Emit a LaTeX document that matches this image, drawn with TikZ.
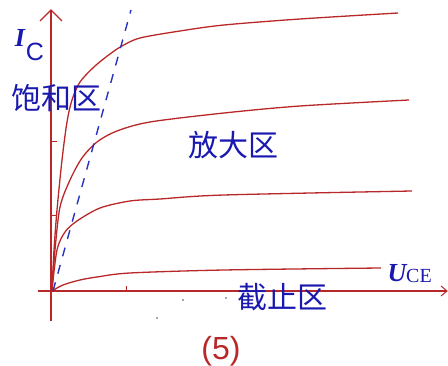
\documentclass[tikz,border=0pt]{standalone}
\usepackage{fontspec}
\newfontfamily\cjk{Noto Sans CJK SC}
\newfontfamily\lsans{Liberation Sans}
\newfontfamily\lserif{Liberation Serif}
\usetikzlibrary{arrows.meta}
\definecolor{cred}{RGB}{185,40,40}
\definecolor{cblue}{RGB}{25,25,175}
\definecolor{dblue}{RGB}{40,50,190}
\tikzset{
  curve/.style={cred, line width=1.3pt, line join=round},
  axis/.style={cred, line width=1.5pt},
  region/.style={text=cblue, font=\cjk\fontsize{30}{32}\selectfont, inner sep=0pt},
}
\begin{document}
\begin{tikzpicture}[x=1pt,y=-1pt]
\useasboundingbox (0,0) rectangle (448,366);
% axes
\coordinate (o) at (51,291);
\coordinate (ytop) at (51,10);
\coordinate (ybot) at (51,321);
\coordinate (xl) at (38,291);
\coordinate (xr) at (447,291);
\draw[axis] (ybot) -- (ytop);
\draw[cred, line width=1.2pt] (40,21) -- (ytop) -- (62,21);
\draw[axis] (xl) -- (xr);
\draw[cred, line width=1pt] (441,286) -- (xr) -- (441,296);
% ticks
\draw[cred, line width=1pt] (126,291) -- (126,286);
\draw[cred, line width=1pt] (51,142) -- (57,142);
\draw[cred, line width=1pt] (51,216) -- (57,216);
% curves
\draw[curve] plot[smooth, tension=0.5] coordinates {(52,290) (54,250) (57,210) (62,160) (67,122) (72,100) (80,82) (95,66) (110,54) (122,46) (140,38) (180,31) (224,25) (300,19) (398,13)};
\draw[curve] plot[smooth, tension=0.5] coordinates {(52,290) (55,250) (60,207) (70,180) (82,158) (97,142) (117,131) (150,122) (224,113) (300,106) (409,100)};
\draw[curve] plot[smooth, tension=0.5] coordinates {(52,290) (57,250) (65,232) (77,221) (100,208) (130,201) (160,199) (224,195) (412,191)};
\draw[curve] plot[smooth, tension=0.5] coordinates {(52,291) (63,285) (80,280) (97,277) (130,273) (224,270) (381,268)};
% dashed saturation boundary
\coordinate (d0) at (53,291);
\coordinate (d1) at (131,10);
\draw[dblue, line width=1.4pt, dash pattern=on 9pt off 9pt] (d0) -- (d1);
% labels
\node[text=cblue, font=\lserif\itshape\bfseries\fontsize{26}{28}\selectfont, inner sep=0pt] (ic) at (20,38) {I};
\node[text=cblue, font=\lsans\fontsize{25}{27}\selectfont, inner sep=0pt] (icsub) at (35,52) {C};
\node[region] (sat) at (57,98) {饱和区};
\node[region] (amp) at (233,145) {放大区};
\node[region] (cut) at (282,297) {截止区};
\node[text=cblue, font=\lserif\itshape\bfseries\fontsize{26}{28}\selectfont, inner sep=0pt] (u) at (397,273) {U};
\node[text=cblue, font=\lserif\fontsize{20}{22}\selectfont, inner sep=0pt, anchor=base west] (ce) at (406,283) {CE};
\node[text=cred, font=\lsans\fontsize{32}{34}\selectfont, inner sep=0pt] (num) at (221,351) {(5)};
% specks
\fill[black!70] (183,300) circle (0.8);
\fill[black!70] (157,318) circle (0.8);
\fill[black!70] (226,298) circle (0.8);
\end{tikzpicture}
\end{document}
